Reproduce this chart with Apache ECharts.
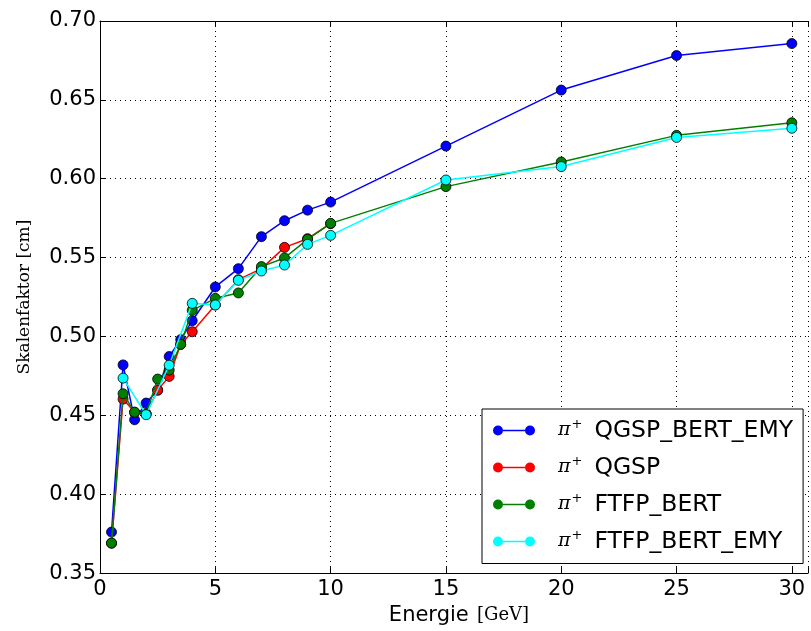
<!DOCTYPE html>
<html>
<head>
<meta charset="utf-8">
<script src="https://cdn.jsdelivr.net/npm/echarts@6/dist/echarts.min.js"></script>
<style>
  html, body { margin: 0; padding: 0; background: #fff; overflow: hidden; }
  #chart { width: 811px; height: 631px; }
</style>
</head>
<body>
<div id="chart"></div>
<script>
// energies (GeV) per series
const energyFull = [0.5, 1, 1.5, 2, 2.5, 3, 3.5, 4, 5, 6, 7, 8, 9, 10, 15, 20, 25, 30];
const energyRed = [0.5, 1, 1.5, 2, 2.5, 3, 3.5, 4, 5, 6, 7, 8, 9, 10];
const energyCyan = [1, 2, 3, 4, 5, 6, 7, 8, 9, 10, 15, 20, 25, 30];

// Skalenfaktor values
const qgspBertEmy = [0.376, 0.482, 0.4472, 0.4578, 0.466, 0.4873, 0.498, 0.510, 0.5314, 0.543,
  0.5633, 0.5734, 0.5801, 0.5852, 0.6207, 0.6562, 0.6781, 0.6857];
const qgsp = [0.369, 0.4603, 0.452, 0.451, 0.466, 0.4747, 0.495, 0.503, 0.520, 0.536,
  0.543, 0.5565, 0.562, 0.5715];
const ftfpBert = [0.369, 0.4637, 0.452, 0.451, 0.473, 0.4787, 0.495, 0.5166, 0.5242, 0.5276,
  0.5443, 0.5498, 0.5616, 0.5717, 0.595, 0.6106, 0.6275, 0.6355];
const ftfpBertEmy = [0.4736, 0.4504, 0.4818, 0.521, 0.520, 0.5356, 0.5415, 0.5453, 0.5584,
  0.5641, 0.5992, 0.6077, 0.6262, 0.632];

const xTicks = [0, 5, 10, 15, 20, 25, 30];
const yTicks = [0.35, 0.40, 0.45, 0.50, 0.55, 0.60, 0.65, 0.70];
// the plot frame is cut by the right edge of the picture
const xMax = 30.7;

const pairs = (xs, ys) => xs.map((x, i) => [x, ys[i]]);

const makeSeries = (name, color, xs, ys, z) => ({
  name: name,
  type: 'line',
  data: pairs(xs, ys),
  z: z,
  symbol: 'circle',
  symbolSize: 10,
  showAllSymbol: true,
  lineStyle: { color: color, width: 1.5 },
  itemStyle: { color: color, borderColor: '#000', borderWidth: 0.8 },
  emphasis: { disabled: true },
  animation: false
});

const legendIcon = 'path://M0,5a5,5 0 1,0 10,0a5,5 0 1,0 -10,0zM32,5a5,5 0 1,0 10,0a5,5 0 1,0 -10,0zM10,4.25h22v1.5h-22z';

const chart = echarts.init(document.getElementById('chart'));

const tickFont = { color: '#000', fontFamily: 'DejaVu Sans', fontSize: 21 };

chart.setOption({
  animation: false,
  grid: { left: 100, right: 0, top: 21, bottom: 57 },
  legend: {
    left: 482,
    top: 409,
    orient: 'vertical',
    backgroundColor: '#fff',
    borderColor: '#000',
    borderWidth: 1,
    borderRadius: 0,
    padding: [9, 10, 10, 11],
    itemWidth: 42,
    itemHeight: 10,
    itemGap: 12.5,
    icon: legendIcon,
    itemStyle: { borderWidth: 0 },
    formatter: name => '{pi|π}{sup|+}{n|' + name + '}',
    textStyle: {
      color: '#000',
      lineHeight: 24,
      rich: {
        pi: { fontFamily: 'DejaVu Serif', fontStyle: 'italic', fontSize: 19, padding: [0, 0, 0, 18], color: '#000' },
        sup: { fontFamily: 'DejaVu Serif', fontSize: 13, padding: [0, 0, 12, 1], color: '#000' },
        n: { fontFamily: 'DejaVu Sans', fontSize: 23.5, padding: [0, 0, 0, 12], color: '#000' }
      }
    },
    data: ['QGSP_BERT_EMY', 'QGSP', 'FTFP_BERT', 'FTFP_BERT_EMY']
  },
  xAxis: [{
    type: 'value',
    min: 0,
    max: xMax,
    interval: 5,
    name: '{a|Energie} {b|[GeV]}',
    nameLocation: 'middle',
    nameGap: 29,
    nameTextStyle: {
      padding: [0, 0, 0, 10],
      rich: {
        a: { fontFamily: 'DejaVu Sans', fontSize: 21, color: '#000', padding: [0, 5, 0, 0] },
        b: { fontFamily: 'DejaVu Serif', fontSize: 18, color: '#000' }
      }
    },
    axisLine: { show: true, onZero: false, lineStyle: { color: '#000', width: 1 } },
    axisTick: { show: true, inside: true, length: 6, lineStyle: { color: '#000' } },
    axisLabel: {
      ...tickFont,
      margin: 6,
      formatter: v => (xTicks.includes(v) ? String(v) : '')
    },
    splitLine: { show: true, lineStyle: { color: '#000', type: [1, 4], width: 1 } }
  }, {
    type: 'value',
    position: 'top',
    min: 0,
    max: xMax,
    interval: 5,
    axisLine: { show: true, onZero: false, lineStyle: { color: '#000', width: 1 } },
    axisTick: { show: true, inside: true, length: 6, lineStyle: { color: '#000' } },
    axisLabel: { show: false },
    splitLine: { show: false }
  }],
  yAxis: [{
    type: 'value',
    min: 0.35,
    max: 0.70,
    interval: 0.05,
    name: 'Skalenfaktor [cm]',
    nameLocation: 'middle',
    nameGap: 67,
    nameTextStyle: { fontFamily: 'DejaVu Serif', fontSize: 17, color: '#000' },
    axisLine: { show: true, onZero: false, lineStyle: { color: '#000', width: 1 } },
    axisTick: { show: true, inside: true, length: 6, lineStyle: { color: '#000' } },
    axisLabel: {
      ...tickFont,
      margin: 4,
      formatter: v => {
        const t = yTicks.find(y => Math.abs(y - v) < 1e-6);
        return t === undefined ? '' : t.toFixed(2);
      }
    },
    splitLine: { show: true, lineStyle: { color: '#000', type: [1, 4], width: 1 } }
  }],
  series: [
    makeSeries('QGSP_BERT_EMY', '#0000ff', energyFull, qgspBertEmy, 2),
    makeSeries('QGSP', '#ff0000', energyRed, qgsp, 3),
    makeSeries('FTFP_BERT', '#008000', energyFull, ftfpBert, 4),
    makeSeries('FTFP_BERT_EMY', '#00ffff', energyCyan, ftfpBertEmy, 5)
  ]
});
</script>
</body>
</html>
